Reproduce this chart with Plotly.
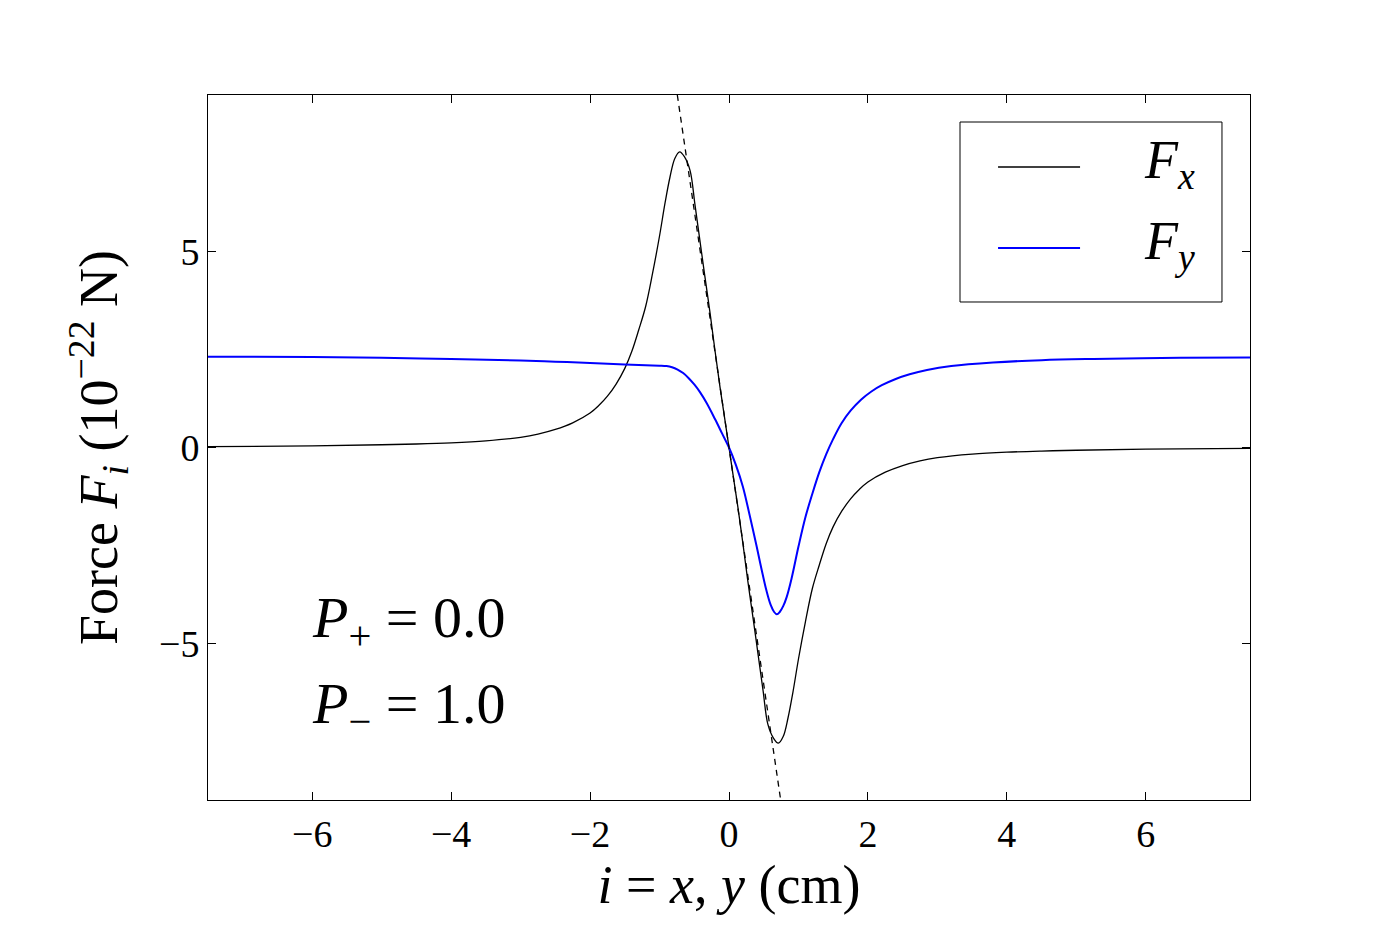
import plotly.graph_objects as go

# ---- data ----
fx_x = [-7.5, -6.0, -5.0, -4.5, -4.0, -3.5, -3.0, -2.75, -2.5, -2.25, -2.0, -1.875,
        -1.75, -1.625, -1.5, -1.4, -1.3, -1.2, -1.1, -1.0, -0.92, -0.85, -0.78,
        -0.71, -0.64, -0.56, -0.49, -0.42, -0.35, -0.27, -0.2, -0.13, -0.06, 0.0,
        0.06, 0.13, 0.2, 0.27, 0.35, 0.42, 0.49, 0.56, 0.64, 0.71, 0.78, 0.85, 0.92,
        1.0, 1.1, 1.2, 1.3, 1.4, 1.5, 1.625, 1.75, 1.875, 2.0, 2.25, 2.5, 2.75, 3.0,
        3.5, 4.0, 4.5, 5.0, 6.0, 7.5]
fx_y = [0.02, 0.04, 0.07, 0.09, 0.12, 0.17, 0.26, 0.34, 0.46, 0.63, 0.88, 1.07,
        1.31, 1.62, 2.02, 2.45, 3.00, 3.60, 4.45, 5.40, 6.25, 6.90, 7.38,
        7.55, 7.42, 7.07, 6.20, 5.30, 4.40, 3.40, 2.45, 1.55, 0.72, 0.0,
        -0.72, -1.55, -2.45, -3.40, -4.40, -5.30, -6.20, -7.07, -7.42, -7.55, -7.38,
        -6.90, -6.25, -5.40, -4.45, -3.60, -3.00, -2.45, -2.02, -1.62, -1.31, -1.07,
        -0.88, -0.63, -0.46, -0.34, -0.26, -0.17, -0.12, -0.09, -0.07, -0.04, -0.02]

fy_x = [-7.5, -6.0, -5.0, -4.0, -3.0, -2.5, -2.0, -1.5, -1.2, -1.0, -0.9, -0.82,
        -0.74, -0.66, -0.58, -0.5, -0.42, -0.32, -0.2, -0.1, 0.0, 0.1, 0.2, 0.3, 0.4,
        0.47, 0.54, 0.6, 0.65, 0.69, 0.73, 0.78, 0.83, 0.9, 1.0, 1.1, 1.2, 1.3, 1.4,
        1.5, 1.62, 1.75, 1.9, 2.05, 2.2, 2.4, 2.6, 2.85, 3.2, 3.8, 4.5, 5.25, 6.5, 7.5]
fy_y = [2.32, 2.31, 2.29, 2.26, 2.22, 2.19, 2.16, 2.12, 2.10, 2.09, 2.08, 2.05,
        1.99, 1.90, 1.77, 1.61, 1.42, 1.13, 0.72, 0.36, 0.0, -0.45, -1.0, -1.75, -2.54,
        -3.12, -3.66, -4.02, -4.2, -4.26, -4.2, -4.05, -3.82, -3.35, -2.53, -1.78, -1.18,
        -0.63, -0.17, 0.22, 0.62, 0.94, 1.22, 1.43, 1.59, 1.75, 1.87, 1.98, 2.08, 2.17,
        2.23, 2.26, 2.29, 2.30]

slope_x = [-0.744, 0.744]
slope_y = [9.0, -9.0]

series_names = ["<i>F</i><sub><i>x</i></sub>", "<i>F</i><sub><i>y</i></sub>"]
series_colors = ["black", "#0000ff"]

x_ticks = [-6, -4, -2, 0, 2, 4, 6]
y_ticks = [-5, 0, 5]

FONT = "Liberation Serif"

fig = go.Figure()
fig.add_trace(go.Scatter(x=fx_x, y=fx_y, mode="lines", name=series_names[0],
                         line=dict(color=series_colors[0], width=1.3, shape="spline",
                                   smoothing=1.0), showlegend=False))
fig.add_trace(go.Scatter(x=fy_x, y=fy_y, mode="lines", name=series_names[1],
                         line=dict(color=series_colors[1], width=2.0, shape="spline",
                                   smoothing=1.0), showlegend=False))
fig.add_trace(go.Scatter(x=slope_x, y=slope_y, mode="lines", showlegend=False,
                         line=dict(color="black", width=1.3, dash="6px,5px")))

axis_common = dict(showline=True, linecolor="black", linewidth=1, mirror="ticks",
                   ticks="inside", ticklen=8, tickcolor="black", showgrid=False,
                   zeroline=False, tickfont=dict(family=FONT, size=38, color="black"))

fig.update_xaxes(range=[-7.5, 7.5], tickvals=x_ticks, **axis_common,
                 title=dict(text="<i>i</i> = <i>x</i>, <i>y</i> (cm)",
                            font=dict(family=FONT, size=54, color="black"), standoff=4))
fig.update_yaxes(range=[-9, 9], tickvals=y_ticks, **axis_common,
                 title=dict(text="Force <i>F</i><sub><i>i</i></sub> (10<sup>−22</sup> N)",
                            font=dict(family=FONT, size=54, color="black"), standoff=24))

# manual legend (matplotlib-like)
shapes = [dict(type="rect", xref="paper", yref="paper", x0=0.7217, x1=0.9731,
               y0=0.7064, y1=0.9617, line=dict(color="black", width=1),
               fillcolor="white", layer="above")]
annotations = []
leg_y = [0.8979, 0.7830]
for name, col, yy, w in zip(series_names, series_colors, leg_y, [1.3, 2.0]):
    shapes.append(dict(type="line", xref="paper", yref="paper", x0=0.7582, x1=0.8369,
                       y0=yy, y1=yy, line=dict(color=col, width=w), layer="above"))
    annotations.append(dict(xref="paper", yref="paper", x=0.8964, y=yy + 0.005,
                            xanchor="left", yanchor="middle", text=name, showarrow=False,
                            font=dict(family=FONT, size=54, color="black")))

annotations.append(dict(x=-6.03, y=-4.45, xref="x", yref="y", xanchor="left",
                        yanchor="middle", showarrow=False,
                        text="<i>P</i><sub>+</sub> = 0.0",
                        font=dict(family=FONT, size=58, color="black")))
annotations.append(dict(x=-6.03, y=-6.65, xref="x", yref="y", xanchor="left",
                        yanchor="middle", showarrow=False,
                        text="<i>P</i><sub>−</sub> = 1.0",
                        font=dict(family=FONT, size=58, color="black")))

fig.update_layout(width=1388, height=942, paper_bgcolor="white", plot_bgcolor="white",
                  margin=dict(l=208, r=138, t=95, b=142, autoexpand=False),
                  shapes=shapes, annotations=annotations, showlegend=False)

fig.write_html("out.html")
